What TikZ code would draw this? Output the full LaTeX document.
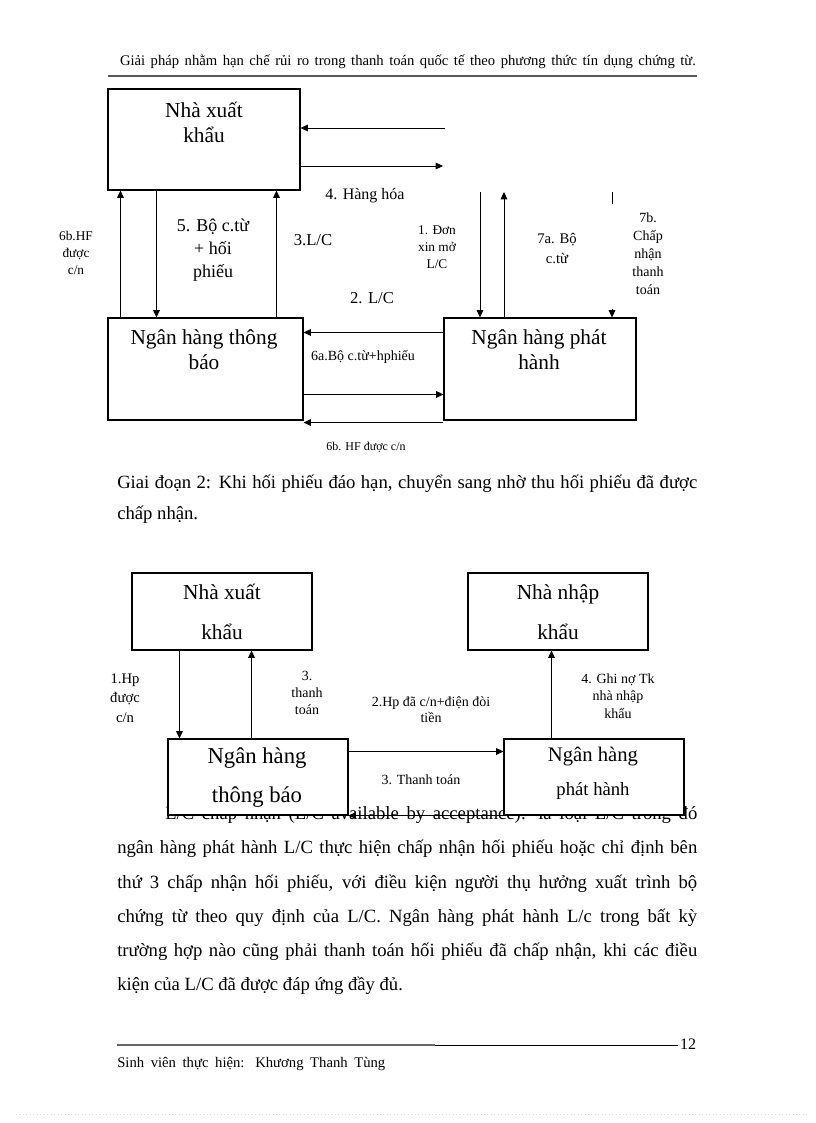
\documentclass[tikz,border=0pt]{standalone}
\usepackage{fontspec}
\setmainfont{Liberation Serif}
\usetikzlibrary{arrows.meta,calc,fit}
\newcommand{\fsz}[2]{\fontsize{#1}{#2}\selectfont}
\begin{document}
\begin{tikzpicture}[x=0.75pt,y=-0.75pt,
  box/.style={draw=black, line width=0.8pt, fill=white, inner sep=0pt},
  arr/.style={draw=black, line width=0.7pt, -{Triangle[length=5.5pt,width=5pt]}},
  ln/.style={draw=black, line width=0.7pt},
  lab/.style={inner sep=0pt, align=center, text=black},
  txt/.style={inner sep=0pt, anchor=west, text=black}]
\useasboundingbox[fill=white] (0,0) rectangle (816,1123);

% ---------- header ----------
\node[lab, font=\fsz{11}{13}] (hdr) at (408,62) {\makebox[432pt][s]{Giải pháp nhằm hạn chế rủi ro trong thanh toán quốc tế theo phương thức tín dụng chứng từ.}};
\coordinate (h1) at (108,76);
\coordinate (h2) at (697,76);
\draw[draw=black!65, line width=1.5pt] (h1) -- (h2);

% ---------- top diagram ----------
\coordinate (a1) at (108,89);  \coordinate (a2) at (300,190);
\coordinate (b1) at (108,318); \coordinate (b2) at (303,420);
\coordinate (c1) at (444,318); \coordinate (c2) at (636,420);
\node[box, fit=(a1)(a2)] (nxk) {};
\node[box, fit=(b1)(b2)] (nhtb) {};
\node[box, fit=(c1)(c2)] (nhph) {};
\node[lab, font=\fsz{16}{18.75}] (nxkt) at (204,122.5) {Nhà xuất\\khẩu};
\node[lab, font=\fsz{16}{18.75}] (nhtbt) at (204,349.5) {Ngân hàng thông\\báo};
\node[lab, font=\fsz{16}{18.75}] (nhpht) at (539,349.5) {Ngân hàng phát\\hành};

\coordinate (e1) at (445,128);
\coordinate (e2) at (443,166);
\draw[arr] (e1) -- (e1 -| nxk.east);
\draw[arr] (e2 -| nxk.east) -- (e2);

\draw[arr] ($(nhtb.north west)+(13,0)$) -- ($(nxk.south west)+(13,0)$);
\draw[arr] ($(nxk.south west)+(49,0)$) -- ($(nhtb.north west)+(49,0)$);
\draw[arr] ($(nhtb.north west)+(169,0)$) -- ($(nxk.south west)+(169,0)$);

\coordinate (v1) at (480,192);
\coordinate (v2) at (504,192);
\coordinate (v3) at (612,192);
\draw[arr] (v1) -- (v1 |- nhph.north);
\draw[arr] (v2 |- nhph.north) -- (v2);
\draw[ln] (v3) -- ($(v3)+(0,12)$);
\draw[arr] ($(v3 |- nhph.north)+(0,-8)$) -- (v3 |- nhph.north);

\draw[arr] ($(nhph.north west)+(0,15)$) -- ($(nhtb.north east)+(0,15)$);
\draw[arr] ($(nhtb.north east)+(0,77)$) -- ($(nhph.north west)+(0,77)$);
\draw[arr] ($(nhph.south west)+(0,2)$) -- ($(nhtb.south east)+(0,2)$);

\node[lab, font=\fsz{12}{14}] (l4) at (365,196) {4. Hàng hóa};
\node[lab, font=\fsz{13.5}{17}] (l5) at (213,250) {5. Bộ c.từ\\+ hối\\phiếu};
\node[lab, font=\fsz{12.5}{14}] (l3) at (313,240) {3.L/C};
\node[lab, font=\fsz{10}{12.5}] (l1) at (437,247) {1. Đơn\\xin mở\\L/C};
\node[lab, font=\fsz{12.5}{14}] (l2) at (372,298) {2. L/C};
\node[lab, font=\fsz{11}{15}] (l7a) at (557,249) {7a. Bộ\\c.từ};
\node[lab, font=\fsz{10.5}{13.5}] (l7b) at (648,254) {7b.\\Chấp\\nhận\\thanh\\toán};
\node[lab, font=\fsz{10}{12.75}] (l6bl) at (76,253) {6b.HF\\được\\c/n};
\node[lab, font=\fsz{10.5}{12}] (l6a) at (363,357) {6a.Bộ c.từ+hphiếu};
\node[lab, font=\fsz{9}{11}] (l6b) at (366,447) {6b. HF được c/n};

% ---------- stage 2 text ----------
\node[txt, font=\fsz{14}{17}] (g1) at (117,484) {\makebox[435pt][s]{Giai đoạn 2: Khi hối phiếu đáo hạn, chuyển sang nhờ thu hối phiếu đã được}};
\node[txt, font=\fsz{14}{17}] (g2) at (117,515) {chấp nhận.};

% ---------- body paragraph (drawn under the lower boxes) ----------
\node[txt, font=\fsz{14}{17}] (p1) at (165,815) {\makebox[399pt][s]{L/C chấp nhận (L/C available by acceptance): là loại L/C trong đó}};
\node[txt, font=\fsz{14}{17}] (p2) at (117,849) {\makebox[435pt][s]{ngân hàng phát hành L/C thực hiện chấp nhận hối phiếu hoặc chỉ định bên}};
\node[txt, font=\fsz{14}{17}] (p3) at (117,884) {\makebox[435pt][s]{thứ 3 chấp nhận hối phiếu, với điều kiện người thụ hưởng xuất trình bộ}};
\node[txt, font=\fsz{14}{17}] (p4) at (117,918) {\makebox[435pt][s]{chứng từ theo quy định của L/C. Ngân hàng phát hành L/c trong bất kỳ}};
\node[txt, font=\fsz{14}{17}] (p5) at (117,952) {\makebox[435pt][s]{trường hợp nào cũng phải thanh toán hối phiếu đã chấp nhận, khi các điều}};
\node[txt, font=\fsz{14}{17}] (p6) at (117,986) {kiện của L/C đã được đáp ứng đầy đủ.};

% ---------- bottom diagram ----------
\coordinate (d1) at (132,573); \coordinate (d2) at (312,650);
\coordinate (f1) at (468,573); \coordinate (f2) at (648,650);
\coordinate (k1) at (168,739); \coordinate (k2) at (348,815);
\coordinate (m1) at (504,739); \coordinate (m2) at (684,815);
\node[box, fit=(d1)(d2)] (nxk2) {};
\node[box, fit=(f1)(f2)] (nhnk) {};
\node[box, fit=(k1)(k2)] (nhtb2) {};
\node[box, fit=(m1)(m2)] (nhph2) {};
\node[lab, font=\fsz{16}{30}] (nxk2t) at (222,612) {Nhà xuất\\khẩu};
\node[lab, font=\fsz{16}{30}] (nhnkt) at (558,612) {Nhà nhập\\khẩu};
\node[lab, font=\fsz{17}{29.25}] (nhtb2t) at (257,777.5) {Ngân hàng\\thông báo};
\node[lab, font=\fsz{15.5}{17}] (nhph2a) at (593,757) {Ngân hàng};
\node[lab, font=\fsz{14}{16}] (nhph2b) at (593,791) {phát hành};

\draw[arr] ($(nxk2.south west)+(48,0)$) -- ($(nhtb2.north west)+(12,0)$);
\draw[arr] ($(nhtb2.north west)+(84,0)$) -- ($(nxk2.south west)+(120,0)$);
\draw[arr] ($(nhph2.north west)+(48,0)$) -- ($(nhnk.south west)+(84,0)$);
\draw[arr] ($(nhtb2.north east)+(0,13)$) -- ($(nhph2.north west)+(0,13)$);
\draw[arr] (nhph2.south west) -- (nhtb2.south east);

\node[lab, font=\fsz{11}{14.5}] (q1) at (125,698) {1.Hp\\được\\c/n};
\node[lab, font=\fsz{10.5}{12.5}] (q3) at (307,693) {3.\\thanh\\toán};
\node[lab, font=\fsz{10.5}{12}] (q2) at (431,710) {2.Hp đã c/n+điện đòi\\tiền};
\node[lab, font=\fsz{10.5}{13}] (q4) at (618,696) {4. Ghi nợ Tk\\nhà nhập\\khẩu};
\node[lab, font=\fsz{10.5}{12}] (q5) at (421,780) {3. Thanh toán};

% ---------- footer ----------
\coordinate (f3) at (117,1045);
\coordinate (f4) at (435,1045);
\coordinate (f5) at (678,1045);
\draw[draw=black!60, line width=1.1pt] (f3) -- (f4);
\draw[draw=black, line width=0.7pt] (f4) -- (f5);
\node[lab, font=\fsz{12}{14}] (pg) at (688,1044) {12};
\node[txt, font=\fsz{11}{13}] (sv) at (117,1064) {\makebox[201pt][s]{Sinh viên thực hiện: Khương Thanh Tùng}};
\coordinate (z1) at (16,1114);
\coordinate (z2) at (808,1114);
\draw[draw=black!15, dotted, line width=0.6pt] (z1) -- (z2);
\end{tikzpicture}
\end{document}
